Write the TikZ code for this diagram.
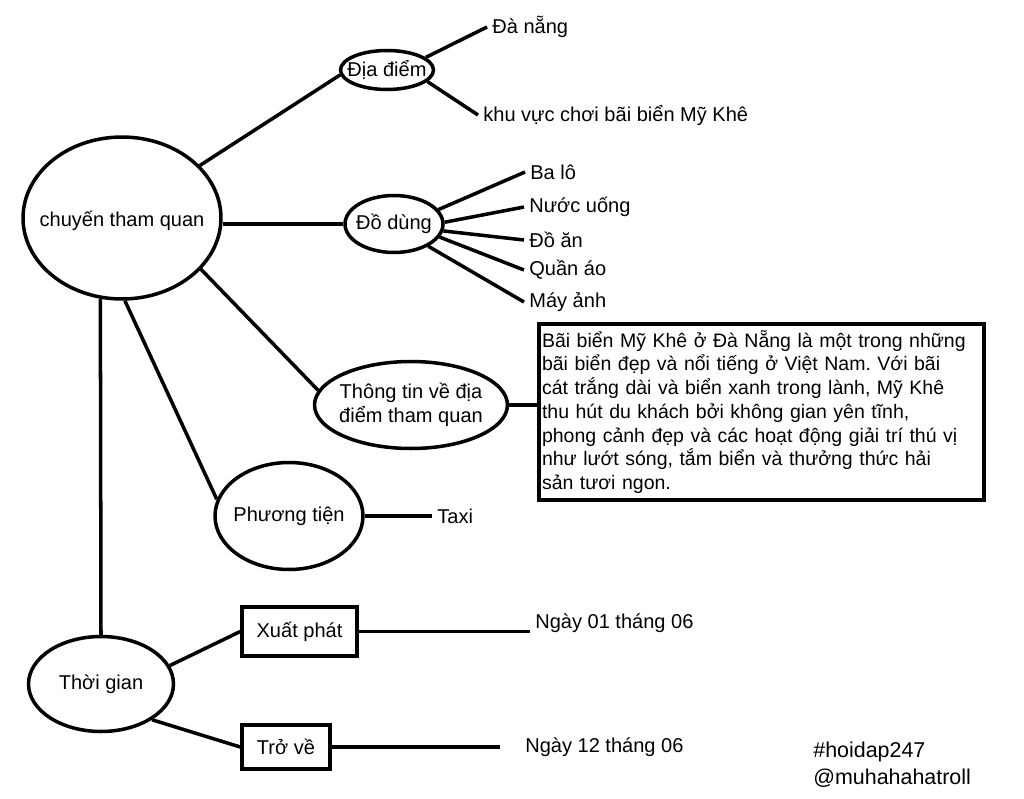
\documentclass[tikz,border=0pt]{standalone}
\usepackage{fontspec}
\setmainfont{Liberation Sans}
\usetikzlibrary{shapes.geometric}
\frenchspacing

\begin{document}
\begin{tikzpicture}[x=0.02cm, y=-0.02cm, font=\fontsize{11.4}{13.5}\selectfont,
		bub/.style={draw, ellipse, line width=2pt, inner sep=0pt},
		tbox/.style={draw, rectangle, line width=2pt},
		leaf/.style={anchor=west, inner sep=0.1cm},
		link/.style={line width=2pt}]
		\useasboundingbox (0,0) rectangle (1024,798);

		% centre and branches
		\node[bub, minimum width=3.96cm, minimum height=3.24cm, label={[yshift=-0.05cm]center:{chuyến tham quan}}] (main) at (122,218) {};
		\node[bub, minimum width=1.86cm, minimum height=0.78cm, label=center:{Địa điểm}] (dia) at (387,70) {};
		\node[bub, minimum width=1.96cm, minimum height=1.14cm, label=center:{Đồ dùng}] (dd) at (394,224) {};
		\node[bub, minimum width=3.86cm, minimum height=1.74cm, label={[align=center]center:{Thông tin về địa\\điểm tham quan}}] (tt) at (411,405) {};
		\node[bub, minimum width=2.96cm, minimum height=2.14cm, label=center:{Phương tiện}] (pt) at (289,516) {};
		\node[bub, minimum width=2.9cm, minimum height=1.9cm, label=center:{Thời gian}] (tg) at (101,684) {};

		\node[tbox, minimum width=2.3cm, minimum height=0.98cm] (xp) at (299.5,631.5) {Xuất phát};
		\node[tbox, minimum width=1.76cm, minimum height=0.88cm] (tv) at (286,747) {Trở về};

		\node[tbox, line width=2.2pt, align=left, text width=8.78cm, inner xsep=0.06cm, minimum height=3.52cm,
			font=\fontsize{11.1}{13.5}\selectfont] (info) at (761.5,412) {Bãi biển Mỹ Khê ở Đà Nẵng là một trong những\\
			bãi biển đẹp và nổi tiếng ở Việt Nam. Với bãi\\
			cát trắng dài và biển xanh trong lành, Mỹ Khê\\
			thu hút du khách bởi không gian yên tĩnh,\\
			phong cảnh đẹp và các hoạt động giải trí thú vị\\
			như lướt sóng, tắm biển và thưởng thức hải\\
			sản tươi ngon.};

		% leaves
		\node[leaf] (dn) at (487,27) {Đà nẵng};
		\node[leaf] (khu) at (478,115) {khu vực chơi bãi biển Mỹ Khê};
		\node[leaf] (balo) at (525,172) {Ba lô};
		\node[leaf] (nuoc) at (524,207) {Nước uống};
		\node[leaf] (doan) at (524,240) {Đồ ăn};
		\node[leaf] (quan) at (524,270) {Quần áo};
		\node[leaf] (may) at (524,302) {Máy ảnh};
		\node[leaf] (taxi) at (432,516) {Taxi};
		\node[leaf] (n01) at (530,623) {Ngày 01 tháng 06};
		\node[leaf] (n12) at (520,747) {Ngày 12 tháng 06};

		\node[anchor=west, inner sep=0pt, font=\fontsize{12.2}{14}\selectfont] (tag) at (813,752) {\#hoidap247};
		\node[anchor=west, inner sep=0pt, font=\fontsize{12.2}{14}\selectfont] (user) at (813,778) {@muhahahatroll};

		% connectors
		\draw[link] (main.34) -- (dia.186);
		\draw[link] (dd.west -| main.east) -- (dd.west);
		\draw[link] (main.-33) -- (tt.171);
		\draw[link] (main.-88) -- (pt.167);
		\draw[link] (main.-105) -- (tg.north);

		\draw[link] (dia.18) -- (dn.west);
		\draw[link] (dia.-16) -- (khu.west);
		\draw[link] (dd.18) -- (balo.west);
		\draw[link] (dd.2) -- (nuoc.west);
		\draw[link] (dd.-8) -- (doan.west);
		\draw[link] (dd.-16) -- (quan.west);
		\draw[link] (dd.-33) -- (may.west);

		\draw[link] (tt.east) -- (tt.east -| info.west);
		\draw[link] (pt.east) -- (taxi.west);

		\draw[link] (tg.15) -- (xp.west);
		\draw[link] (tg.-35) -- (tv.west);
		\draw[link] (xp.east) -- (xp.east -| n01.west);
		\draw[link, shorten >=0.4cm] (tv.east) -- (n12.west);
	\end{tikzpicture}
\end{document}
